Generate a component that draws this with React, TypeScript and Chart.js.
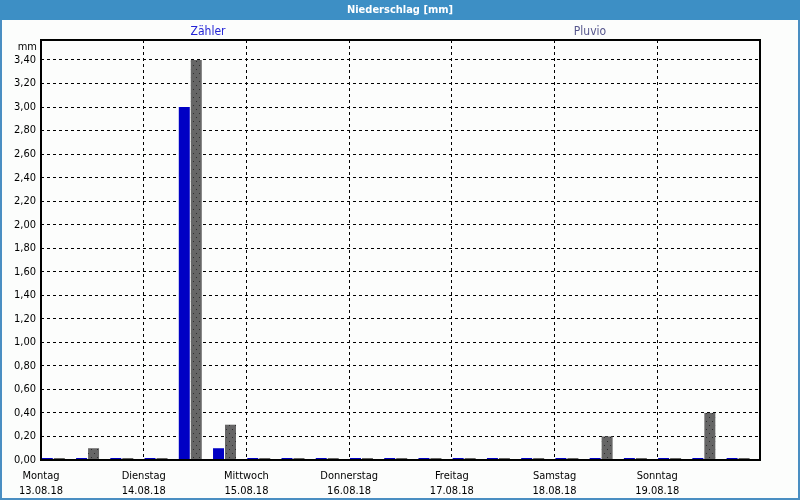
import React, { useEffect, useRef } from "react";
import { Chart, registerables } from "chart.js";

Chart.register(...registerables);

// ---- data ----
const dayNames = ["Montag", "Dienstag", "Mittwoch", "Donnerstag", "Freitag", "Samstag", "Sonntag"];
const dayDates = ["13.08.18", "14.08.18", "15.08.18", "16.08.18", "17.08.18", "18.08.18", "19.08.18"];
// 8-hour bins, 3 per day (21 bins)
const zaehlerValues = [0, 0, 0, 0, 3.0, 0.1, 0, 0, 0, 0, 0, 0, 0, 0, 0, 0, 0, 0, 0, 0, 0];
const pluvioValues = [0, 0.1, 0, 0, 3.4, 0.3, 0, 0, 0, 0, 0, 0, 0, 0, 0, 0, 0.2, 0, 0, 0.4, 0];
const yTickValues = [0, 0.2, 0.4, 0.6, 0.8, 1.0, 1.2, 1.4, 1.6, 1.8, 2.0, 2.2, 2.4, 2.6, 2.8, 3.0, 3.2, 3.4];
const dayTickValues = [0, 3, 6, 9, 12, 15, 18, 21];
const seriesNames = ["Zähler", "Pluvio"];
const titleText = "Niederschlag [mm]";
const unitText = "mm";

const FONT = "'DejaVu Sans Condensed', 'Liberation Sans', sans-serif";
const BIN_SHIFT = 0.36;

function makeDotPattern(): CanvasPattern | string {
  const c = document.createElement("canvas");
  c.width = 6;
  c.height = 8;
  const g = c.getContext("2d");
  if (!g) return "#666666";
  g.fillStyle = "#666666";
  g.fillRect(0, 0, 6, 8);
  g.fillStyle = "#2e2e2e";
  g.fillRect(1, 1, 1, 1);
  g.fillRect(4, 5, 1, 1);
  const p = g.createPattern(c, "repeat");
  return p || "#666666";
}

const framePlugin = {
  id: "frame",
  beforeDraw(chart: any) {
    const { ctx, width, height } = chart;
    ctx.save();
    ctx.fillStyle = "#fcfdfc";
    ctx.fillRect(0, 0, width, height);
    ctx.fillStyle = "#3d8fc5";
    ctx.fillRect(0, 0, width, 20);
    ctx.fillStyle = "#ffffff";
    ctx.font = `bold 11px ${FONT}`;
    ctx.textAlign = "center";
    ctx.textBaseline = "middle";
    ctx.fillText(titleText, width / 2, 10);
    ctx.fillStyle = "#4a8ec2";
    ctx.fillRect(0, 20, 2, height - 20);
    ctx.fillRect(width - 2, 20, 2, height - 20);
    ctx.fillRect(0, height - 2, width, 2);
    ctx.font = `12px ${FONT}`;
    ctx.fillStyle = "#2424d6";
    ctx.fillText(seriesNames[0], 208, 32);
    ctx.fillStyle = "#56568c";
    ctx.fillText(seriesNames[1], 590, 32);
    ctx.fillStyle = "#000000";
    ctx.font = `11px ${FONT}`;
    ctx.textAlign = "right";
    ctx.fillText(unitText, 37, 47);
    ctx.restore();
  },
  afterDraw(chart: any) {
    const { ctx, chartArea } = chart;
    ctx.save();
    ctx.strokeStyle = "#000000";
    ctx.lineWidth = 2;
    ctx.strokeRect(chartArea.left, chartArea.top, chartArea.right - chartArea.left, chartArea.bottom - chartArea.top);
    ctx.restore();
  },
};

export default function App() {
  const ref = useRef<HTMLCanvasElement | null>(null);

  useEffect(() => {
    document.body.style.margin = "0";
    const canvas = ref.current;
    if (!canvas) return;
    const pattern = makeDotPattern();
    const chart = new Chart(canvas, {
      type: "bar",
      data: {
        datasets: [
          {
            label: seriesNames[0],
            data: zaehlerValues.map((v, i) => ({ x: i + BIN_SHIFT, y: v })),
            backgroundColor: "#0000c4",
            minBarLength: 2,
          },
          {
            label: seriesNames[1],
            data: pluvioValues.map((v, i) => ({ x: i + BIN_SHIFT, y: v })),
            backgroundColor: pattern as any,
            minBarLength: 2,
          },
        ],
      },
      options: {
        responsive: false,
        animation: false,
        events: [],
        categoryPercentage: 0.7,
        barPercentage: 0.917,
        layout: { padding: { left: 0, right: 40, top: 40, bottom: 0 } },
        plugins: {
          legend: { display: false },
          title: { display: false },
          tooltip: { enabled: false },
        },
        scales: {
          x: {
            type: "linear",
            min: 0,
            max: 21,
            offset: false,
            afterBuildTicks: (scale: any) => {
              scale.ticks = dayTickValues.map((v) => ({ value: v }));
            },
            afterFit: (scale: any) => {
              scale.height = 40;
            },
            border: { display: false, dash: [3, 3] },
            grid: {
              color: "#000000",
              lineWidth: 1,
              drawTicks: false,
              offset: false,
            },
            ticks: {
              autoSkip: false,
              maxRotation: 0,
              padding: 8,
              color: "#000000",
              font: { family: FONT, size: 11, lineHeight: 1.4 } as any,
              callback: (v: any) => {
                const d = Math.round(Number(v) / 3);
                return d < dayNames.length ? [dayNames[d], dayDates[d]] : "";
              },
            },
          },
          y: {
            min: 0,
            max: 3.57,
            afterBuildTicks: (scale: any) => {
              scale.ticks = yTickValues.map((v) => ({ value: v }));
            },
            afterFit: (scale: any) => {
              scale.width = 41;
            },
            border: { display: false, dash: [3, 3] },
            grid: { color: "#000000", lineWidth: 1, drawTicks: false },
            ticks: {
              padding: 5,
              color: "#000000",
              font: { family: FONT, size: 11 },
              callback: (v: any) => Number(v).toFixed(2).replace(".", ","),
            },
          },
        },
      } as any,
      plugins: [framePlugin],
    });
    return () => chart.destroy();
  }, []);

  return (
    <div style={{ position: "absolute", left: 0, top: 0, width: 800, height: 500 }}>
      <canvas ref={ref} width={800} height={500} style={{ display: "block", width: 800, height: 500 }} />
    </div>
  );
}
